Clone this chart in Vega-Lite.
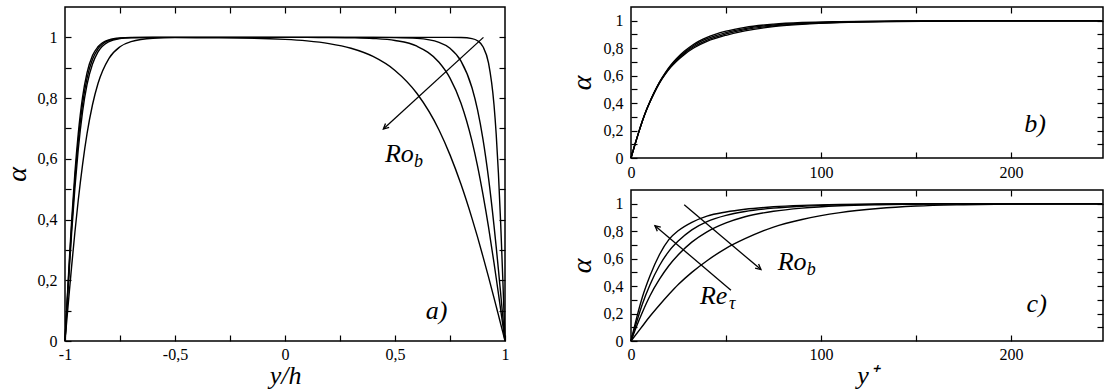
{
  "$schema": "https://vega.github.io/schema/vega-lite/v6.json",
  "padding": {"left": 2, "top": 5, "right": 0, "bottom": 0},
  "background": "white",
  "datasets": {
    "acurves": [
      {"x": -1, "A": 0, "B": 0, "C": 0, "D": 0},
      {"x": -0.99, "A": 0.138, "B": 0.131, "C": 0.122, "D": 0.083},
      {"x": -0.98, "A": 0.271, "B": 0.257, "C": 0.242, "D": 0.165},
      {"x": -0.97, "A": 0.394, "B": 0.376, "C": 0.354, "D": 0.245},
      {"x": -0.955, "A": 0.554, "B": 0.531, "C": 0.504, "D": 0.358},
      {"x": -0.94, "A": 0.681, "B": 0.657, "C": 0.629, "D": 0.462},
      {"x": -0.92, "A": 0.804, "B": 0.782, "C": 0.756, "D": 0.582},
      {"x": -0.9, "A": 0.883, "B": 0.865, "C": 0.844, "D": 0.682},
      {"x": -0.875, "A": 0.94, "B": 0.928, "C": 0.912, "D": 0.778},
      {"x": -0.85, "A": 0.969, "B": 0.962, "C": 0.952, "D": 0.848},
      {"x": -0.8, "A": 0.992, "B": 0.99, "C": 0.986, "D": 0.931},
      {"x": -0.75, "A": 0.998, "B": 0.997, "C": 0.996, "D": 0.969},
      {"x": -0.7, "A": 0.9995, "B": 0.999, "C": 0.999, "D": 0.986},
      {"x": -0.6, "A": 1, "B": 1, "C": 1, "D": 0.997},
      {"x": -0.5, "A": 1, "B": 1, "C": 1, "D": 0.999},
      {"x": -0.3, "A": 1, "B": 1, "C": 1, "D": 0.9988},
      {"x": 0, "A": 1, "B": 1, "C": 1, "D": 0.9934},
      {"x": 0.1, "A": 1, "B": 1, "C": 0.9998, "D": 0.9884},
      {"x": 0.2, "A": 1, "B": 1, "C": 0.9996, "D": 0.9795},
      {"x": 0.3, "A": 1, "B": 1, "C": 0.9987, "D": 0.964},
      {"x": 0.4, "A": 1, "B": 0.9999, "C": 0.9964, "D": 0.937},
      {"x": 0.5, "A": 1, "B": 0.9993, "C": 0.9897, "D": 0.891},
      {"x": 0.6, "A": 1, "B": 0.9967, "C": 0.9708, "D": 0.815},
      {"x": 0.7, "A": 1, "B": 0.9837, "C": 0.918, "D": 0.695},
      {"x": 0.75, "A": 1, "B": 0.964, "C": 0.866, "D": 0.613},
      {"x": 0.8, "A": 0.9995, "B": 0.922, "C": 0.783, "D": 0.516},
      {"x": 0.85, "A": 0.996, "B": 0.834, "C": 0.658, "D": 0.404},
      {"x": 0.875, "A": 0.989, "B": 0.762, "C": 0.577, "D": 0.343},
      {"x": 0.9, "A": 0.969, "B": 0.664, "C": 0.482, "D": 0.278},
      {"x": 0.925, "A": 0.916, "B": 0.537, "C": 0.376, "D": 0.211},
      {"x": 0.95, "A": 0.778, "B": 0.38, "C": 0.257, "D": 0.142},
      {"x": 0.96, "A": 0.681, "B": 0.31, "C": 0.2075, "D": 0.114},
      {"x": 0.97, "A": 0.554, "B": 0.236, "C": 0.157, "D": 0.086},
      {"x": 0.98, "A": 0.394, "B": 0.159, "C": 0.105, "D": 0.057},
      {"x": 0.99, "A": 0.205, "B": 0.08, "C": 0.053, "D": 0.029},
      {"x": 1, "A": 0, "B": 0, "C": 0, "D": 0}
    ],
    "bcurves": [
      {"yplus": 0, "b1": 0, "b2": 0, "b3": 0, "b4": 0},
      {"yplus": 2, "b1": 0.095, "b2": 0.095, "b3": 0.095, "b4": 0.095},
      {"yplus": 4, "b1": 0.185, "b2": 0.185, "b3": 0.185, "b4": 0.185},
      {"yplus": 6, "b1": 0.271, "b2": 0.27, "b3": 0.27, "b4": 0.269},
      {"yplus": 8, "b1": 0.347, "b2": 0.346, "b3": 0.345, "b4": 0.344},
      {"yplus": 10, "b1": 0.412, "b2": 0.411, "b3": 0.41, "b4": 0.408},
      {"yplus": 12, "b1": 0.473, "b2": 0.471, "b3": 0.469, "b4": 0.467},
      {"yplus": 15, "b1": 0.554, "b2": 0.551, "b3": 0.549, "b4": 0.546},
      {"yplus": 18, "b1": 0.621, "b2": 0.617, "b3": 0.613, "b4": 0.609},
      {"yplus": 21, "b1": 0.678, "b2": 0.673, "b3": 0.667, "b4": 0.662},
      {"yplus": 24, "b1": 0.725, "b2": 0.719, "b3": 0.711, "b4": 0.705},
      {"yplus": 28, "b1": 0.777, "b2": 0.769, "b3": 0.761, "b4": 0.753},
      {"yplus": 33, "b1": 0.829, "b2": 0.82, "b3": 0.81, "b4": 0.801},
      {"yplus": 40, "b1": 0.879, "b2": 0.869, "b3": 0.859, "b4": 0.849},
      {"yplus": 50, "b1": 0.924, "b2": 0.914, "b3": 0.904, "b4": 0.894},
      {"yplus": 60, "b1": 0.952, "b2": 0.943, "b3": 0.935, "b4": 0.926},
      {"yplus": 75, "b1": 0.975, "b2": 0.969, "b3": 0.963, "b4": 0.957},
      {"yplus": 90, "b1": 0.987, "b2": 0.982, "b3": 0.978, "b4": 0.973},
      {"yplus": 110, "b1": 0.994, "b2": 0.991, "b3": 0.989, "b4": 0.986},
      {"yplus": 140, "b1": 0.998, "b2": 0.997, "b3": 0.995, "b4": 0.994},
      {"yplus": 180, "b1": 0.999, "b2": 0.999, "b3": 0.999, "b4": 0.999},
      {"yplus": 248, "b1": 1, "b2": 1, "b3": 1, "b4": 1}
    ],
    "ccurves": [
      {"curve": "c1", "yplus": 0, "alpha": 0},
      {"curve": "c1", "yplus": 3, "alpha": 0.17},
      {"curve": "c1", "yplus": 6, "alpha": 0.32},
      {"curve": "c1", "yplus": 10, "alpha": 0.475},
      {"curve": "c1", "yplus": 15, "alpha": 0.63},
      {"curve": "c1", "yplus": 20, "alpha": 0.74},
      {"curve": "c1", "yplus": 25, "alpha": 0.805},
      {"curve": "c1", "yplus": 32, "alpha": 0.865},
      {"curve": "c1", "yplus": 40, "alpha": 0.91},
      {"curve": "c1", "yplus": 50, "alpha": 0.94},
      {"curve": "c1", "yplus": 60, "alpha": 0.96},
      {"curve": "c1", "yplus": 75, "alpha": 0.978},
      {"curve": "c1", "yplus": 90, "alpha": 0.988},
      {"curve": "c1", "yplus": 110, "alpha": 0.995},
      {"curve": "c1", "yplus": 130, "alpha": 0.998},
      {"curve": "c1", "yplus": 160, "alpha": 1},
      {"curve": "c1", "yplus": 248, "alpha": 1},
      {"curve": "c2", "yplus": 0, "alpha": 0},
      {"curve": "c2", "yplus": 3, "alpha": 0.14},
      {"curve": "c2", "yplus": 6, "alpha": 0.27},
      {"curve": "c2", "yplus": 10, "alpha": 0.41},
      {"curve": "c2", "yplus": 15, "alpha": 0.55},
      {"curve": "c2", "yplus": 20, "alpha": 0.655},
      {"curve": "c2", "yplus": 25, "alpha": 0.73},
      {"curve": "c2", "yplus": 32, "alpha": 0.81},
      {"curve": "c2", "yplus": 40, "alpha": 0.87},
      {"curve": "c2", "yplus": 50, "alpha": 0.915},
      {"curve": "c2", "yplus": 60, "alpha": 0.943},
      {"curve": "c2", "yplus": 75, "alpha": 0.968},
      {"curve": "c2", "yplus": 90, "alpha": 0.982},
      {"curve": "c2", "yplus": 110, "alpha": 0.992},
      {"curve": "c2", "yplus": 130, "alpha": 0.996},
      {"curve": "c2", "yplus": 160, "alpha": 0.999},
      {"curve": "c2", "yplus": 248, "alpha": 1},
      {"curve": "c3", "yplus": 0, "alpha": 0},
      {"curve": "c3", "yplus": 3, "alpha": 0.11},
      {"curve": "c3", "yplus": 6, "alpha": 0.21},
      {"curve": "c3", "yplus": 10, "alpha": 0.33},
      {"curve": "c3", "yplus": 15, "alpha": 0.45},
      {"curve": "c3", "yplus": 20, "alpha": 0.55},
      {"curve": "c3", "yplus": 25, "alpha": 0.63},
      {"curve": "c3", "yplus": 32, "alpha": 0.72},
      {"curve": "c3", "yplus": 40, "alpha": 0.795},
      {"curve": "c3", "yplus": 50, "alpha": 0.86},
      {"curve": "c3", "yplus": 60, "alpha": 0.905},
      {"curve": "c3", "yplus": 75, "alpha": 0.945},
      {"curve": "c3", "yplus": 90, "alpha": 0.968},
      {"curve": "c3", "yplus": 110, "alpha": 0.985},
      {"curve": "c3", "yplus": 130, "alpha": 0.993},
      {"curve": "c3", "yplus": 160, "alpha": 0.998},
      {"curve": "c3", "yplus": 248, "alpha": 1},
      {"curve": "c4", "yplus": 0, "alpha": 0},
      {"curve": "c4", "yplus": 5, "alpha": 0.09},
      {"curve": "c4", "yplus": 10, "alpha": 0.18},
      {"curve": "c4", "yplus": 15, "alpha": 0.262},
      {"curve": "c4", "yplus": 20, "alpha": 0.34},
      {"curve": "c4", "yplus": 25, "alpha": 0.413},
      {"curve": "c4", "yplus": 32, "alpha": 0.5},
      {"curve": "c4", "yplus": 40, "alpha": 0.585},
      {"curve": "c4", "yplus": 50, "alpha": 0.675},
      {"curve": "c4", "yplus": 60, "alpha": 0.745},
      {"curve": "c4", "yplus": 75, "alpha": 0.83},
      {"curve": "c4", "yplus": 90, "alpha": 0.885},
      {"curve": "c4", "yplus": 110, "alpha": 0.935},
      {"curve": "c4", "yplus": 130, "alpha": 0.965},
      {"curve": "c4", "yplus": 150, "alpha": 0.983},
      {"curve": "c4", "yplus": 175, "alpha": 0.993},
      {"curve": "c4", "yplus": 200, "alpha": 0.998},
      {"curve": "c4", "yplus": 248, "alpha": 1}
    ],
    "arrows": [
      {"panel": "a", "name": "Ro", "x": 0.902, "y": 1.0, "x2": 0.447, "y2": 0.698},
      {"panel": "c", "name": "Re", "x": 52.6, "y": 0.37, "x2": 12.6, "y2": 0.84},
      {"panel": "c", "name": "Ro", "x": 28, "y": 0.993, "x2": 68.4, "y2": 0.52}
    ],
    "labels": [
      {"panel": "a", "x": 0.4545, "y": 0.588, "main": "Ro", "sub": "b"},
      {"panel": "c", "x": 77.2, "y": 0.52, "main": "Ro", "sub": "b"},
      {"panel": "c", "x": 36.3, "y": 0.266, "main": "Re", "sub": "τ"}
    ],
    "letters": [
      {"panel": "a", "x": 0.689, "y": 0.099, "text": "a)"},
      {"panel": "b", "x": 212.6, "y": 0.245, "text": "b)"},
      {"panel": "c", "x": 213.5, "y": 0.267, "text": "c)"}
    ]
  },
  "hconcat": [
    {
      "width": 440,
      "height": 334,
      "resolve": {"axis": {"x": "independent", "y": "independent"}},
      "layer": [
        {
          "data": {"name": "acurves"},
          "transform": [{"fold": ["A", "B", "C", "D"], "as": ["curve", "alpha"]}],
          "mark": {"type": "line", "interpolate": "monotone", "color": "black", "strokeWidth": 1.4},
          "encoding": {
            "x": {"field": "x", "type": "quantitative", "scale": {"domain": [-1, 1], "nice": false, "zero": false},
              "axis": {"orient": "bottom", "values": [-1, -0.75, -0.5, -0.25, 0, 0.25, 0.5, 0.75, 1],
                "labelExpr": "indexof([-1,-0.5,0,0.5,1], datum.value) >= 0 ? replace(toString(datum.value), '.', ',') : ''",
                "labelPadding": 11, "title": "y/h", "titleFontSize": 26, "titlePadding": 0}},
            "y": {"field": "alpha", "type": "quantitative", "scale": {"domain": [0, 1.1], "nice": false},
              "axis": {"orient": "left", "values": [0, 0.1, 0.2, 0.3, 0.4, 0.5, 0.6, 0.7, 0.8, 0.9, 1],
                "labelExpr": "indexof([0,0.2,0.4,0.6,0.8,1], datum.value) >= 0 ? replace(toString(datum.value), '.', ',') : ''",
                "labelPadding": 14, "title": "α", "titleFontSize": 28, "titlePadding": 6}},
            "detail": {"field": "curve"}
          }
        },
        {
          "data": {"name": "arrows"},
          "transform": [{"filter": "datum.panel == 'a'"}],
          "mark": {"type": "rule", "color": "black", "strokeWidth": 1.3},
          "encoding": {
            "x": {"field": "x", "type": "quantitative", "scale": {"domain": [-1, 1], "nice": false, "zero": false},
              "axis": {"orient": "top", "values": [-0.75, -0.5, -0.25, 0, 0.25, 0.5, 0.75], "labels": false, "title": null}},
            "y": {"field": "y", "type": "quantitative", "scale": {"domain": [0, 1.1], "nice": false},
              "axis": {"orient": "right", "values": [0.1, 0.2, 0.3, 0.4, 0.5, 0.6, 0.7, 0.8, 0.9, 1], "labels": false, "title": null}},
            "x2": {"field": "x2"},
            "y2": {"field": "y2"}
          }
        },
        {
          "data": {"name": "arrows"},
          "transform": [{"filter": "datum.panel == 'a'"}],
          "mark": {"type": "point", "shape": "M -0.45 0.9 L 0 0 L 0.45 0.9", "size": 144, "filled": false, "stroke": "black", "strokeWidth": 1.3, "opacity": 1, "angle": 227.5},
          "encoding": {
            "x": {"field": "x2", "type": "quantitative", "axis": null},
            "y": {"field": "y2", "type": "quantitative", "axis": null}
          }
        },
        {
          "data": {"name": "labels"},
          "transform": [{"filter": "datum.panel == 'a'"}],
          "mark": {"type": "text", "fontSize": 26, "align": "left", "baseline": "alphabetic"},
          "encoding": {
            "x": {"field": "x", "type": "quantitative", "axis": null},
            "y": {"field": "y", "type": "quantitative", "axis": null},
            "text": {"field": "main"}
          }
        },
        {
          "data": {"name": "labels"},
          "transform": [{"filter": "datum.panel == 'a'"}],
          "mark": {"type": "text", "fontSize": 18, "align": "left", "baseline": "alphabetic", "dx": 29, "dy": 5},
          "encoding": {
            "x": {"field": "x", "type": "quantitative", "axis": null},
            "y": {"field": "y", "type": "quantitative", "axis": null},
            "text": {"field": "sub"}
          }
        },
        {
          "data": {"name": "letters"},
          "transform": [{"filter": "datum.panel == 'a'"}],
          "mark": {"type": "text", "fontSize": 26, "align": "center", "baseline": "middle"},
          "encoding": {
            "x": {"field": "x", "type": "quantitative", "axis": null},
            "y": {"field": "y", "type": "quantitative", "axis": null},
            "text": {"field": "text"}
          }
        }
      ]
    },
    {
      "vconcat": [
        {
          "width": 472,
          "height": 151,
          "resolve": {"axis": {"x": "independent", "y": "independent"}},
          "layer": [
            {
              "data": {"name": "bcurves"},
              "transform": [{"fold": ["b1", "b2", "b3", "b4"], "as": ["curve", "alpha"]}],
              "mark": {"type": "line", "interpolate": "monotone", "color": "black", "strokeWidth": 1.3},
              "encoding": {
                "x": {"field": "yplus", "type": "quantitative", "scale": {"domain": [0, 248.4], "nice": false, "zero": false},
                  "axis": {"orient": "bottom", "values": [0, 50, 100, 150, 200],
                    "labelExpr": "datum.value % 100 == 0 ? toString(datum.value) : ''",
                    "labelPadding": 12, "title": null}},
                "y": {"field": "alpha", "type": "quantitative", "scale": {"domain": [0, 1.1], "nice": false},
                  "axis": {"orient": "left", "values": [0, 0.1, 0.2, 0.3, 0.4, 0.5, 0.6, 0.7, 0.8, 0.9, 1],
                    "labelExpr": "indexof([0,0.2,0.4,0.6,0.8,1], datum.value) >= 0 ? replace(toString(datum.value), '.', ',') : ''",
                    "labelPadding": 14, "title": "α", "titleFontSize": 28, "titlePadding": 7}},
                "detail": {"field": "curve"}
              }
            },
            {
              "data": {"name": "letters"},
              "transform": [{"filter": "datum.panel == 'b'"}],
              "mark": {"type": "text", "fontSize": 26, "align": "center", "baseline": "middle"},
              "encoding": {
                "x": {"field": "x", "type": "quantitative", "scale": {"domain": [0, 248.4], "nice": false, "zero": false},
                  "axis": {"orient": "top", "values": [50, 100, 150, 200], "labels": false, "title": null}},
                "y": {"field": "y", "type": "quantitative", "scale": {"domain": [0, 1.1], "nice": false},
                  "axis": {"orient": "right", "values": [0.1, 0.2, 0.3, 0.4, 0.5, 0.6, 0.7, 0.8, 0.9, 1], "labels": false, "title": null}},
                "text": {"field": "text"}
              }
            }
          ]
        },
        {
          "width": 472,
          "height": 151,
          "resolve": {"axis": {"x": "independent", "y": "independent"}},
          "layer": [
            {
              "data": {"name": "ccurves"},
              "mark": {"type": "line", "interpolate": "monotone", "color": "black", "strokeWidth": 1.4},
              "encoding": {
                "x": {"field": "yplus", "type": "quantitative", "scale": {"domain": [0, 248.4], "nice": false, "zero": false},
                  "axis": {"orient": "bottom", "values": [0, 50, 100, 150, 200],
                    "labelExpr": "datum.value % 100 == 0 ? toString(datum.value) : ''",
                    "labelPadding": 11, "title": "y⁺", "titleFontSize": 26, "titlePadding": 0}},
                "y": {"field": "alpha", "type": "quantitative", "scale": {"domain": [0, 1.1], "nice": false},
                  "axis": {"orient": "left", "values": [0, 0.1, 0.2, 0.3, 0.4, 0.5, 0.6, 0.7, 0.8, 0.9, 1],
                    "labelExpr": "indexof([0,0.2,0.4,0.6,0.8,1], datum.value) >= 0 ? replace(toString(datum.value), '.', ',') : ''",
                    "labelPadding": 14, "title": "α", "titleFontSize": 28, "titlePadding": 7}},
                "detail": {"field": "curve"}
              }
            },
            {
              "data": {"name": "arrows"},
              "transform": [{"filter": "datum.panel == 'c'"}],
              "mark": {"type": "rule", "color": "black", "strokeWidth": 1.3},
              "encoding": {
                "x": {"field": "x", "type": "quantitative", "scale": {"domain": [0, 248.4], "nice": false, "zero": false},
                  "axis": {"orient": "top", "values": [50, 100, 150, 200], "labels": false, "title": null}},
                "y": {"field": "y", "type": "quantitative", "scale": {"domain": [0, 1.1], "nice": false},
                  "axis": {"orient": "right", "values": [0.1, 0.2, 0.3, 0.4, 0.5, 0.6, 0.7, 0.8, 0.9, 1], "labels": false, "title": null}},
                "x2": {"field": "x2"},
                "y2": {"field": "y2"}
              }
            },
            {
              "data": {"name": "arrows"},
              "transform": [{"filter": "datum.panel == 'c' && datum.name == 'Re'"}],
              "mark": {"type": "point", "shape": "M -0.45 0.9 L 0 0 L 0.45 0.9", "size": 144, "filled": false, "stroke": "black", "strokeWidth": 1.3, "opacity": 1, "angle": 310.4},
              "encoding": {
                "x": {"field": "x2", "type": "quantitative", "axis": null},
                "y": {"field": "y2", "type": "quantitative", "axis": null}
              }
            },
            {
              "data": {"name": "arrows"},
              "transform": [{"filter": "datum.panel == 'c' && datum.name == 'Ro'"}],
              "mark": {"type": "point", "shape": "M -0.45 0.9 L 0 0 L 0.45 0.9", "size": 144, "filled": false, "stroke": "black", "strokeWidth": 1.3, "opacity": 1, "angle": 130.2},
              "encoding": {
                "x": {"field": "x2", "type": "quantitative", "axis": null},
                "y": {"field": "y2", "type": "quantitative", "axis": null}
              }
            },
            {
              "data": {"name": "labels"},
              "transform": [{"filter": "datum.panel == 'c'"}],
              "mark": {"type": "text", "fontSize": 26, "align": "left", "baseline": "alphabetic"},
              "encoding": {
                "x": {"field": "x", "type": "quantitative", "axis": null},
                "y": {"field": "y", "type": "quantitative", "axis": null},
                "text": {"field": "main"}
              }
            },
            {
              "data": {"name": "labels"},
              "transform": [{"filter": "datum.panel == 'c'"}],
              "mark": {"type": "text", "fontSize": 18, "align": "left", "baseline": "alphabetic", "dx": 29, "dy": 5},
              "encoding": {
                "x": {"field": "x", "type": "quantitative", "axis": null},
                "y": {"field": "y", "type": "quantitative", "axis": null},
                "text": {"field": "sub"}
              }
            },
            {
              "data": {"name": "letters"},
              "transform": [{"filter": "datum.panel == 'c'"}],
              "mark": {"type": "text", "fontSize": 26, "align": "center", "baseline": "middle"},
              "encoding": {
                "x": {"field": "x", "type": "quantitative", "axis": null},
                "y": {"field": "y", "type": "quantitative", "axis": null},
                "text": {"field": "text"}
              }
            }
          ]
        }
      ],
      "spacing": 32,
      "bounds": "flush"
    }
  ],
  "spacing": 126,
  "bounds": "flush",
  "config": {
    "view": {"stroke": "black", "strokeWidth": 1.5},
    "axis": {
      "grid": false, "domain": false,
      "labelFont": "Liberation Serif", "labelFontSize": 16, "labelColor": "black",
      "labelFlush": false, "labelOverlap": false,
      "tickColor": "black", "tickWidth": 1.2, "tickSize": -6,
      "titleFont": "Liberation Serif", "titleFontStyle": "italic", "titleFontWeight": "normal", "titleColor": "black"
    },
    "text": {"font": "Liberation Serif", "fontStyle": "italic", "color": "black"}
  }
}
